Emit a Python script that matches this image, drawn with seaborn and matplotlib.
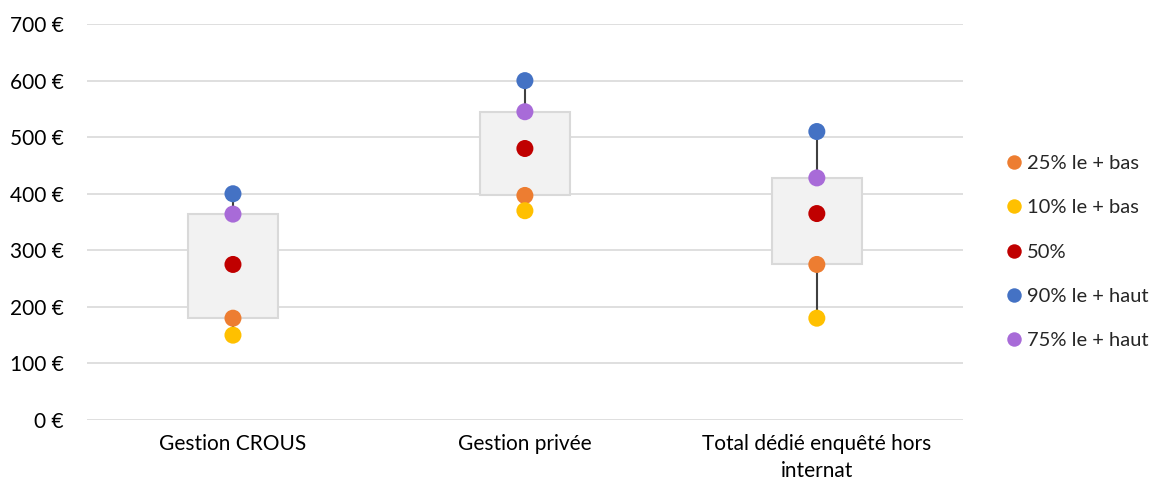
import matplotlib.pyplot as plt
import pandas as pd
import seaborn as sns

categories = ["Gestion CROUS", "Gestion privée", "Total dédié enquêté hors\ninternat"]
p10 = [150, 370, 180]
p25 = [180, 397, 275]
p50 = [275, 480, 365]
p75 = [364, 545, 428]
p90 = [400, 600, 510]

series_names = ["25% le + bas", "10% le + bas", "50%", "90% le + haut", "75% le + haut"]
series_values = [p25, p10, p50, p90, p75]
series_colors = ["#ED7D31", "#FFC000", "#C00000", "#4472C4", "#A86BD8"]
y_ticks = [0, 100, 200, 300, 400, 500, 600, 700]

rows = []
for name, values in zip(series_names, series_values):
    for cat, v in zip(categories, values):
        rows.append({"cat": cat, "val": v, "series": name})
df = pd.DataFrame(rows)

sns.set_theme(style="white")
plt.rcParams["font.family"] = ["Lato", "DejaVu Sans"]

fig = plt.figure(figsize=(11.6, 4.91), dpi=100)
ax = fig.add_axes([0.075, 0.1446, 0.755, 0.8064])

x = list(range(len(categories)))
# boxes from 25% to 75%
ax.bar(x, [b - a for a, b in zip(p25, p75)], bottom=p25, width=0.31,
       color="#F2F2F2", edgecolor="#D9D9D9", linewidth=1.5, zorder=2)
# whiskers
ax.vlines(x, p75, p90, color="#404040", linewidth=1.5, zorder=3)
ax.vlines(x, p10, p25, color="#404040", linewidth=1.5, zorder=3)

sns.scatterplot(data=df, x="cat", y="val", hue="series", hue_order=series_names,
                palette=series_colors, s=150, linewidth=0, ax=ax, zorder=4)

ax.set_xlim(-0.5, 2.5)
ax.set_ylim(0, 700)
ax.set_yticks(y_ticks)
ax.set_yticklabels([f"{v} €" for v in y_ticks])
ax.yaxis.grid(True, color="#D9D9D9", linewidth=1.2, zorder=0)
ax.set_axisbelow(True)
for side in ["top", "right", "left", "bottom"]:
    ax.spines[side].set_visible(False)
ax.tick_params(axis="both", length=0, labelsize=15, colors="#000000")
ax.tick_params(axis="x", pad=10)
ax.tick_params(axis="y", pad=17)
for lab in ax.get_xticklabels():
    lab.set_linespacing(1.45)
ax.set_xlabel("")
ax.set_ylabel("")

leg = ax.legend(loc="center left", bbox_to_anchor=(1.031, 0.424), frameon=False,
                fontsize=14.5, labelspacing=1.35, handlelength=0.6,
                handletextpad=0.35, markerscale=0.85)

fig.savefig("out.png", dpi=100)
